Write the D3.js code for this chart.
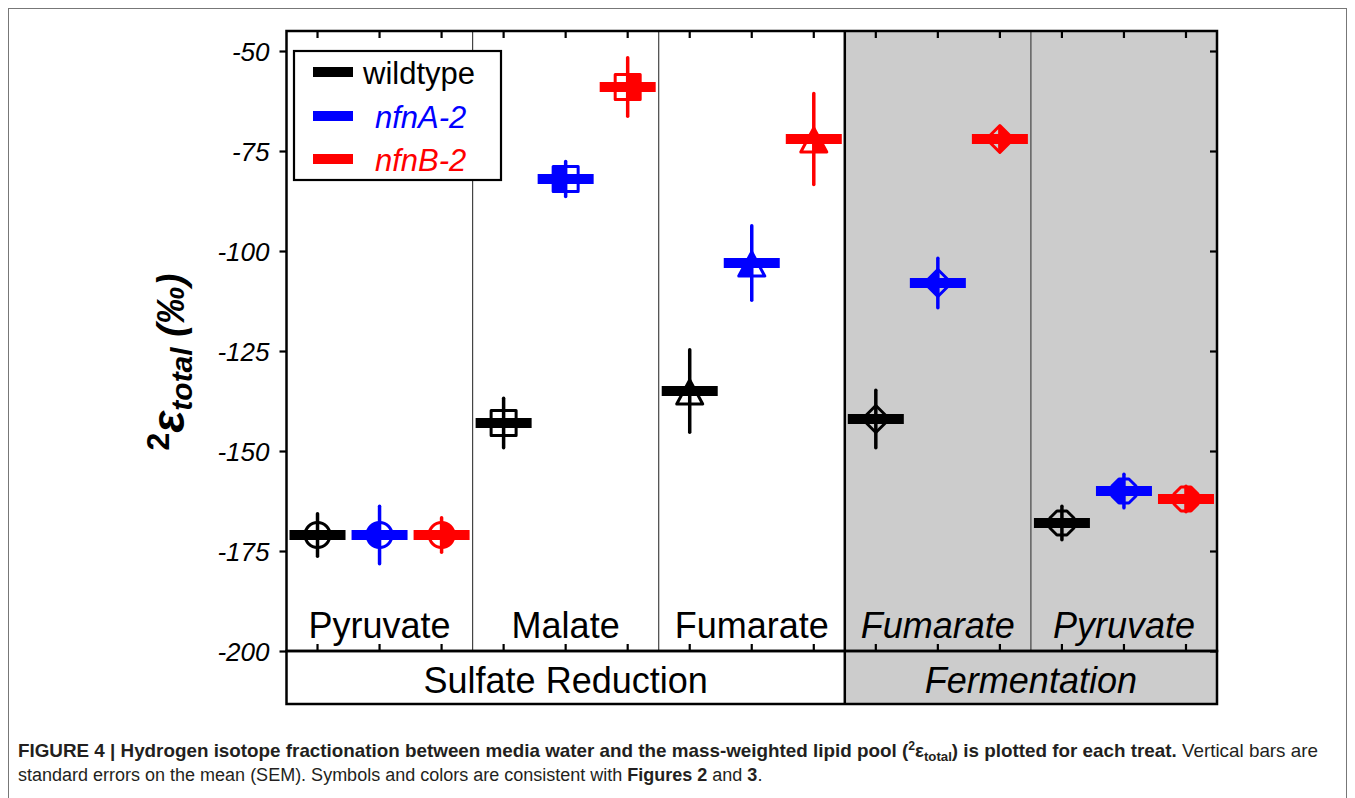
<!DOCTYPE html>
<html><head><meta charset="utf-8">
<script src="https://cdn.jsdelivr.net/npm/d3@7"></script>
<style>
body{margin:0;background:#fff}
svg{display:block}
text{font-family:"Liberation Sans",Arial,Helvetica,sans-serif}
</style>
</head><body>
<svg id="chart" width="1355" height="798"></svg>
<script>
// ---- data ----
const panels = ["Pyruvate","Malate","Fumarate","Fumarate","Pyruvate"];
const panelGroup = ["Sulfate Reduction","Sulfate Reduction","Sulfate Reduction","Fermentation","Fermentation"];
const groups = ["Sulfate Reduction","Fermentation"];
const strains = ["wildtype","nfnA-2","nfnB-2"];
const wildtypeMean = [-171,-143,-135,-142,-168];
const wildtypeSEM  = [5.3,6.2,10.3,7.2,4.2];
const nfnAMean = [-171,-82,-103,-108,-160];
const nfnASEM  = [7.2,4.4,9.3,6.2,4.2];
const nfnBMean = [-171,-59,-72,-72,-162];
const nfnBSEM  = [4.3,7.3,11.4,2.5,3.2];
const yTicks = [-50,-75,-100,-125,-150,-175,-200];

// ---- styles ----
const strainColor = ["#000000","#0000ff","#ff0000"];
const strainFill = ["none","left","right"];
const panelShape = ["circle","square","triangle","diamond","octagon"];

const means = [wildtypeMean,nfnAMean,nfnBMean];
const sems = [wildtypeSEM,nfnASEM,nfnBSEM];
const points = [];
panels.forEach((p,pi)=>strains.forEach((s,si)=>points.push({
  key:pi+"-"+si, panel:pi, strain:si, mean:means[si][pi], sem:sems[si][pi]
})));

const svg = d3.select("#chart");
const L=286.5, R=1217, T=31, B=651, B2=704;
const y = d3.scaleLinear().domain([-200,-45]).range([B,T]);
const xCol = d3.scaleBand().domain(points.map(d=>d.key)).range([L,R]);
const xPanel = d3.scaleBand().domain(d3.range(panels.length)).range([L,R]);

// outer figure frame
svg.append("rect").attr("x",8.5).attr("y",8.5).attr("width",1338).attr("height",820)
  .attr("fill","none").attr("stroke","#777").attr("stroke-width",1);

// gray fermentation background
const fermStart = xPanel(3);
svg.append("rect").attr("x",fermStart).attr("y",T).attr("width",R-fermStart).attr("height",B2-T)
  .attr("fill","#cccccc");

// panel dividers
[1,2,4].forEach(i=>{
  svg.append("line").attr("x1",xPanel(i)).attr("x2",xPanel(i)).attr("y1",T).attr("y2",B)
    .attr("stroke","#444").attr("stroke-width",1.2);
});
svg.append("line").attr("x1",fermStart).attr("x2",fermStart).attr("y1",T).attr("y2",B2)
  .attr("stroke","#000").attr("stroke-width",2.5);

// axes ticks
const tickStyle = g=>{g.select(".domain").remove();g.selectAll(".tick line").attr("stroke","#000").attr("stroke-width",2.2);g.selectAll(".tick text").remove();};
svg.append("g").attr("transform",`translate(0,${T})`).call(d3.axisTop(xCol).tickSize(-7)).call(tickStyle);
svg.append("g").attr("transform",`translate(0,${B})`).call(d3.axisBottom(xCol).tickSize(-7)).call(tickStyle);
svg.append("g").attr("transform",`translate(${R},0)`).call(d3.axisRight(y).tickValues(yTicks).tickSize(-7)).call(tickStyle);
const gl = svg.append("g").attr("transform",`translate(${L},0)`)
  .call(d3.axisLeft(y).tickValues(yTicks).tickSize(7).tickPadding(10).tickFormat(d=>String(d)));
gl.select(".domain").remove();
gl.selectAll(".tick line").attr("stroke","#000").attr("stroke-width",2.2);
gl.selectAll(".tick text").attr("font-size",26).attr("font-style","italic")
  .attr("font-family","'Liberation Sans',Arial,sans-serif").attr("fill","#000").attr("dy","0.36em");

// frames
svg.append("rect").attr("x",L).attr("y",T).attr("width",R-L).attr("height",B-T)
  .attr("fill","none").attr("stroke","#000").attr("stroke-width",2.5);
svg.append("rect").attr("x",L).attr("y",B).attr("width",R-L).attr("height",B2-B)
  .attr("fill","none").attr("stroke","#000").attr("stroke-width",2.5);

// panel labels
svg.selectAll("text.panel").data(panels).join("text").attr("class","panel")
  .attr("x",(d,i)=>xPanel(i)+xPanel.bandwidth()/2).attr("y",638)
  .attr("text-anchor","middle").attr("font-size",36)
  .attr("font-style",(d,i)=>panelGroup[i]==="Fermentation"?"italic":"normal")
  .text(d=>d);

// group labels
groups.forEach(g=>{
  const idx = panelGroup.map((p,i)=>p===g?i:-1).filter(i=>i>=0);
  const x0 = xPanel(idx[0]), x1 = xPanel(idx[idx.length-1])+xPanel.bandwidth();
  svg.append("text").attr("x",(x0+x1)/2).attr("y",693).attr("text-anchor","middle")
    .attr("font-size",36).attr("font-style",g==="Fermentation"?"italic":"normal").text(g);
});

// clip paths for half-filled markers
const defs = svg.append("defs");
defs.append("clipPath").attr("id","half-left").append("rect").attr("x",-30).attr("y",-30).attr("width",30).attr("height",60);
defs.append("clipPath").attr("id","half-right").append("rect").attr("x",0).attr("y",-30).attr("width",30).attr("height",60);

function shapePath(shape){
  const p = d3.path();
  if(shape==="circle"){ p.arc(0,0,12.5,0,2*Math.PI); p.closePath(); }
  else if(shape==="square"){ p.rect(-12.5,-12.5,25,25); }
  else if(shape==="triangle"){ p.moveTo(0,-11); p.lineTo(13,13); p.lineTo(-13,13); p.closePath(); }
  else if(shape==="diamond"){ p.moveTo(0,-13.5); p.lineTo(13.5,0); p.lineTo(0,13.5); p.lineTo(-13.5,0); p.closePath(); }
  else { // octagon
    for(let k=0;k<8;k++){const a=Math.PI/8+k*Math.PI/4; const px=13*Math.cos(a), py=13*Math.sin(a); k?p.lineTo(px,py):p.moveTo(px,py);} p.closePath();
  }
  return p.toString();
}

const pg = svg.selectAll("g.pt").data(points).join("g").attr("class","pt")
  .attr("transform",d=>`translate(${xCol(d.key)+xCol.bandwidth()/2},${y(d.mean)})`);
// horizontal mean bar
pg.append("rect").attr("x",-28).attr("y",-5).attr("width",56).attr("height",10)
  .attr("fill",d=>strainColor[d.strain]);
// half fill
pg.filter(d=>strainFill[d.strain]!=="none").append("path")
  .attr("d",d=>shapePath(panelShape[d.panel]))
  .attr("fill",d=>strainColor[d.strain])
  .attr("clip-path",d=>`url(#half-${strainFill[d.strain]})`);
// outline
pg.append("path").attr("d",d=>shapePath(panelShape[d.panel]))
  .attr("fill","none").attr("stroke",d=>strainColor[d.strain]).attr("stroke-width",3)
  .attr("stroke-linejoin","round");
// error bar
pg.append("line").attr("x1",0).attr("x2",0)
  .attr("y1",d=>y(d.mean+d.sem)-y(d.mean)).attr("y2",d=>y(d.mean-d.sem)-y(d.mean))
  .attr("stroke",d=>strainColor[d.strain]).attr("stroke-width",3.5).attr("stroke-linecap","round");

// legend
const lg = svg.append("g");
lg.append("rect").attr("x",294).attr("y",51).attr("width",207).attr("height",129)
  .attr("fill","#fff").attr("stroke","#000").attr("stroke-width",2.2);
const legY = [72,116,159];
strains.forEach((s,i)=>{
  lg.append("rect").attr("x",313).attr("y",legY[i]-5).attr("width",40).attr("height",10).attr("fill",strainColor[i]);
  lg.append("text").attr("x",i===0?363:375).attr("y",legY[i]+12).attr("font-size",31)
    .attr("font-style",i===0?"normal":"italic").attr("fill",strainColor[i]).text(s);
});

// y-axis label
const yl = svg.append("text").attr("transform","translate(184,362) rotate(-90)")
  .attr("text-anchor","middle").attr("font-weight","bold").attr("fill","#000");
yl.append("tspan").attr("font-size",32).attr("dy",-15).text("2");
yl.append("tspan").attr("font-size",46).attr("font-style","italic").attr("dy",15).text("ε");
yl.append("tspan").attr("font-size",30).attr("font-style","italic").attr("dy",8).text("total");
yl.append("tspan").attr("font-size",38).attr("font-style","italic").attr("dy",-8).text(" (‰)");

// caption
const c1 = svg.append("text").attr("x",18).attr("y",757).attr("font-size",18.5).attr("fill","#231f20")
  .attr("textLength",1300).attr("lengthAdjust","spacingAndGlyphs");
c1.append("tspan").attr("font-weight","bold").text("FIGURE 4 | Hydrogen isotope fractionation between media water and the mass-weighted lipid pool (");
c1.append("tspan").attr("font-weight","bold").attr("font-size",12).attr("dy",-7).text("2");
c1.append("tspan").attr("font-weight","bold").attr("dy",7).text("ε");
c1.append("tspan").attr("font-weight","bold").attr("font-size",13).attr("dy",4).text("total");
c1.append("tspan").attr("font-weight","bold").attr("dy",-4).text(") is plotted for each treat.");
c1.append("tspan").text(" Vertical bars are");
const c2 = svg.append("text").attr("x",18).attr("y",781).attr("font-size",18).attr("fill","#231f20");
c2.append("tspan").text("standard errors on the mean (SEM). Symbols and colors are consistent with ");
c2.append("tspan").attr("font-weight","bold").text("Figures 2");
c2.append("tspan").text(" and ");
c2.append("tspan").attr("font-weight","bold").text("3");
c2.append("tspan").text(".");
</script>
</body></html>
